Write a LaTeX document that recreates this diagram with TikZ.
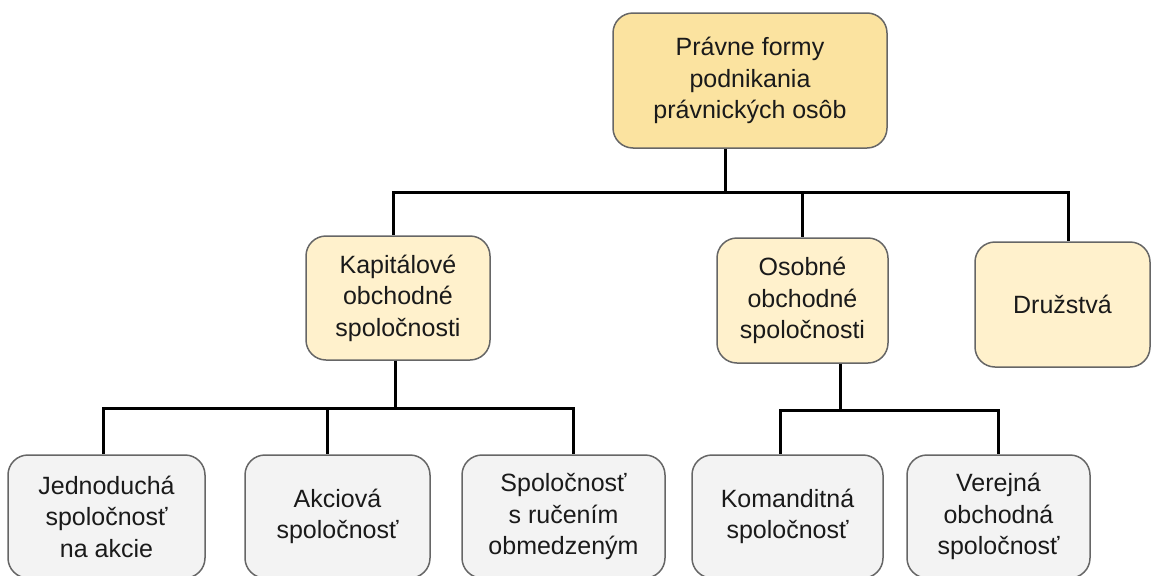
\documentclass[tikz,border=0pt]{standalone}
\usepackage{fontspec}
\setmainfont{Liberation Sans}
\usepackage{tikz}
\definecolor{rootfill}{HTML}{FBE3A0}
\definecolor{groupfill}{HTML}{FFF1CC}
\definecolor{formfill}{HTML}{F3F3F3}
\definecolor{boxline}{HTML}{666666}
\definecolor{txt}{HTML}{1A1A1A}

\begin{document}
\begin{tikzpicture}[x=1pt,y=-1pt]
\tikzset{box/.style = {shape=rectangle,draw=boxline,line width=1.5pt,rounded corners=20pt,align=center,text=txt,inner sep=0pt,font=\fontsize{25}{31.5}\selectfont}}
\tikzset{rootbox/.style = {box,fill=rootfill}}
\tikzset{groupbox/.style = {box,fill=groupfill}}
\tikzset{formbox/.style = {box,fill=formfill,minimum height=123pt}}
\tikzset{edge/.style = {-,line width=3pt}}
\useasboundingbox (0,0) rectangle (1152,576);
\clip (0,0) rectangle (1152,576);
% vertices
\node[rootbox,minimum width=274pt,minimum height=135pt] (root) at (750,80.5) {Právne formy\\podnikania\\právnických osôb};
\node[groupbox,minimum width=184pt,minimum height=124pt] (kap) at (398,298) {Kapitálové\\obchodné\\spoločnosti};
\node[groupbox,minimum width=171pt,minimum height=125pt] (oso) at (802.5,300.5) {Osobné\\obchodné\\spoločnosti};
\node[groupbox,minimum width=175pt,minimum height=125pt] (druz) at (1062.5,304.5) {Družstvá};
\node[formbox,minimum width=197pt] (jsa) at (106.5,516.5) {Jednoduchá\\spoločnosť\\na akcie};
\node[formbox,minimum width=185pt] (as) at (337.5,516.5) {Akciová\\spoločnosť};
\node[formbox,minimum width=203pt] (sro) at (563.5,516.5) {Spoločnosť\\s ručením\\obmedzeným};
\node[formbox,minimum width=191pt] (ks) at (787.5,516.5) {Komanditná\\spoločnosť};
\node[formbox,minimum width=183pt] (vos) at (998.5,516.5) {Verejná\\obchodná\\spoločnosť};
\coordinate (b1) at (725,192);
\coordinate (b2) at (395,408);
\coordinate (b3) at (840,410);

%edges
\draw[edge] ([xshift=-25pt]root.south) -- (b1) -| ([xshift=-5pt]kap.north);
\draw[edge] ([xshift=-25pt]root.south) -- (b1) -| (oso.north);
\draw[edge] ([xshift=-25pt]root.south) -- (b1) -| ([xshift=5.5pt]druz.north);
\draw[edge] ([xshift=-3pt]kap.south) -- (b2) -| ([xshift=-3.5pt]jsa.north);
\draw[edge] ([xshift=-3pt]kap.south) -- (b2) -| ([xshift=-10.5pt]as.north);
\draw[edge] ([xshift=-3pt]kap.south) -- (b2) -| ([xshift=9.5pt]sro.north);
\draw[edge] ([xshift=37.5pt]oso.south) -- (b3) -| ([xshift=-7.5pt]ks.north);
\draw[edge] ([xshift=37.5pt]oso.south) -- (b3) -| (vos.north);
\end{tikzpicture}
\end{document}
